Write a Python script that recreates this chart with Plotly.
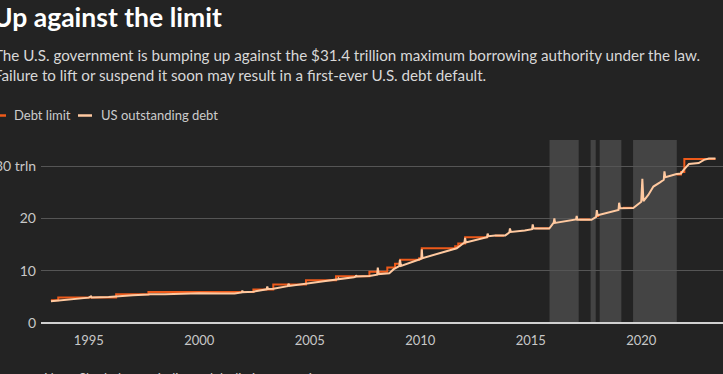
import plotly.graph_objects as go

# ---------------- data ----------------
debt_years = [1993.29, 1994.0, 1995.0, 1995.1, 1995.13, 1995.9, 1996.1, 1996.24, 1997.0, 1997.7, 1997.77,
              1998.45, 1999.0, 2000.0, 2001.0, 2001.6, 2001.93, 2001.95, 2001.98, 2002.45, 2003.05,
              2003.08, 2003.11, 2003.35, 2004.0, 2004.05, 2004.08, 2004.8, 2005.0, 2006.0, 2006.28,
              2006.3, 2006.33, 2007.0, 2007.08, 2007.1, 2007.13, 2007.7, 2008.05, 2008.08, 2008.12,
              2008.6, 2008.8, 2009.05, 2009.08, 2009.13, 2009.93, 2010.05, 2010.07, 2010.1, 2011.65,
              2012.0, 2012.03, 2012.06, 2013.02, 2013.05, 2013.09, 2013.4, 2013.85, 2014.03, 2014.06,
              2014.1, 2014.73, 2015.06, 2015.09, 2015.13, 2015.84, 2016.04, 2016.07, 2016.1, 2017.05,
              2017.08, 2017.11, 2017.75, 2017.96, 2017.99, 2018.03, 2018.97, 2019.0, 2019.04, 2019.64,
              2019.9, 2020.0, 2020.05, 2020.1, 2020.32, 2020.55, 2020.85, 2021.02, 2021.05, 2021.09,
              2021.6, 2021.8, 2021.92, 2022.16, 2022.6, 2022.84, 2023.06, 2023.36]
debt_values = [4.15, 4.45, 4.85, 5.1, 4.88, 4.98, 5.05, 5.1, 5.3, 5.45, 5.5,
               5.5, 5.6, 5.68, 5.65, 5.65, 5.85, 6.2, 5.9, 6.0, 6.45,
               7.0, 6.5, 6.55, 7.05, 7.5, 7.1, 7.5, 7.65, 8.2, 8.35,
               8.55, 8.4, 8.75, 8.85, 9.15, 8.9, 9.0, 9.25, 10.6, 9.35,
               9.5, 10.3, 10.9, 12.1, 10.9, 12.1, 12.3, 14.1, 12.4, 14.3,
               15.4, 16.3, 15.4, 16.4, 17.1, 16.6, 16.75, 16.75, 17.3, 18.1,
               17.4, 17.7, 17.95, 18.85, 18.05, 18.05, 19.2, 20.0, 19.15, 19.8,
               20.5, 19.75, 19.75, 20.3, 21.6, 20.6, 21.6, 23.0, 21.95, 22.0,
               22.9, 23.2, 27.6, 23.3, 24.5, 26.1, 26.9, 27.4, 29.0, 27.9,
               28.5, 28.6, 29.3, 30.4, 30.6, 31.2, 31.45, 31.45]

limit_years = [1993.29, 1993.62, 1996.24, 1997.7, 2002.45, 2003.35, 2004.83, 2006.19, 2007.7,
               2008.51, 2008.86, 2009.09, 2009.95, 2010.07, 2011.58, 2011.72, 2012.03, 2013.08,
               2013.09, 2013.38, 2013.79, 2013.8, 2015.2, 2015.84, 2015.85, 2017.2, 2017.68,
               2017.69, 2017.94, 2018.1, 2018.11, 2019.17, 2019.6, 2019.61, 2021.6, 2021.8,
               2021.95, 2023.36]
limit_values = [4.37, 4.9, 5.5, 5.95, 6.4, 7.384, 8.184, 8.965, 9.815,
                10.615, 11.315, 12.104, 12.394, 14.294, 14.694, 15.194, 16.394, 16.394,
                None, 16.699, 16.699, None, 18.113, 18.113, None, 19.809, 19.809,
                None, 20.456, 20.456, None, 22.03, 22.03, None, 28.4, 28.9,
                31.381, 31.381]

suspension_starts = [2015.85, 2017.71, 2018.12, 2019.63]
suspension_ends = [2017.17, 2017.94, 2019.10, 2021.61]

x_tick_vals = [1995, 2000, 2005, 2010, 2015, 2020]
x_tick_text = ["1995", "2000", "2005", "2010", "2015", "2020"]
y_tick_vals = [0, 10, 20, 30]
y_tick_text = ["0", "10", "20", "30 trln"]

title_text = "Up against the limit"
subtitle_lines = [
    "The U.S. government is bumping up against the $31.4 trillion maximum borrowing authority under the law.",
    "Failure to lift or suspend it soon may result in a first-ever U.S. debt default.",
]
legend_labels = ["Debt limit", "US outstanding debt"]
note_text = "Note: Shaded areas indicate debt limit suspensions."

# ---------------- style ----------------
BG = "#232323"
LIMIT_COLOR = "#ee5a1a"
DEBT_COLOR = "#ffc9a0"
SHADE = "#444444"
FONT = "Lato"

W, H = 723, 374
L, R, T, B = 41, 0, 140, 51
PW, PH = W - L - R, H - T - B


def px(x):
    return (x - L) / PW


def py(y):
    return (H - B - y) / PH


fig = go.Figure()

fig.add_trace(go.Scatter(x=limit_years, y=limit_values, mode="lines", line_shape="hv",
                         line=dict(color=LIMIT_COLOR, width=2), name=legend_labels[0],
                         connectgaps=False, hoverinfo="skip"))
fig.add_trace(go.Scatter(x=debt_years, y=debt_values, mode="lines",
                         line=dict(color=DEBT_COLOR, width=2), name=legend_labels[1],
                         hoverinfo="skip"))

shapes = []
for s, e in zip(suspension_starts, suspension_ends):
    shapes.append(dict(type="rect", xref="x", yref="paper", x0=s, x1=e, y0=0, y1=1,
                       fillcolor=SHADE, line=dict(width=0), layer="below"))

# custom legend
shapes.append(dict(type="line", xref="paper", yref="paper", x0=px(-12), x1=px(6),
                   y0=py(115.5), y1=py(115.5), line=dict(color=LIMIT_COLOR, width=2.5)))
shapes.append(dict(type="line", xref="paper", yref="paper", x0=px(78), x1=px(92),
                   y0=py(115.5), y1=py(115.5), line=dict(color=DEBT_COLOR, width=2.5)))

annotations = [
    dict(text="<b>" + title_text + "</b>", x=px(-9), y=py(17), xref="paper", yref="paper",
         xanchor="left", yanchor="middle", showarrow=False,
         font=dict(family=FONT, size=26.5, color="#ffffff")),
    dict(text=subtitle_lines[0], x=px(-8), y=py(55), xref="paper", yref="paper",
         xanchor="left", yanchor="middle", showarrow=False,
         font=dict(family=FONT, size=15.2, color="#d8d8d8")),
    dict(text=subtitle_lines[1], x=px(-8), y=py(75), xref="paper", yref="paper",
         xanchor="left", yanchor="middle", showarrow=False,
         font=dict(family=FONT, size=15.2, color="#d8d8d8")),
    dict(text=legend_labels[0], x=px(12), y=py(115), xref="paper", yref="paper",
         xanchor="left", yanchor="middle", showarrow=False,
         font=dict(family=FONT, size=13, color="#cccccc")),
    dict(text=legend_labels[1], x=px(99), y=py(115), xref="paper", yref="paper",
         xanchor="left", yanchor="middle", showarrow=False,
         font=dict(family=FONT, size=13, color="#cccccc")),
    dict(text=note_text, x=px(42), y=py(367.5), xref="paper", yref="paper",
         xanchor="left", yanchor="top", showarrow=False,
         font=dict(family=FONT, size=13, color="#cccccc")),
]

fig.update_layout(
    width=W, height=H,
    margin=dict(l=L, r=R, t=T, b=B, pad=0, autoexpand=False),
    paper_bgcolor=BG, plot_bgcolor=BG,
    showlegend=False,
    shapes=shapes,
    annotations=annotations,
    font=dict(family=FONT, color="#bbbbbb", size=13),
    xaxis=dict(range=[1992.84, 2023.70], tickvals=x_tick_vals, ticktext=x_tick_text,
               showgrid=False, zeroline=False, showline=False, ticks="",
               ticklabelstandoff=8, automargin=False,
               tickfont=dict(size=13, color="#c8c8c8"), fixedrange=True),
    yaxis=dict(range=[0, 35], tickvals=y_tick_vals, ticktext=y_tick_text,
               showgrid=True, gridcolor="#555555", gridwidth=1,
               zeroline=True, zerolinecolor="#d0d0d0", zerolinewidth=1.5,
               showline=False, ticks="", ticklabelstandoff=4, automargin=False,
               tickfont=dict(size=14, color="#c8c8c8"),
               fixedrange=True),
)

fig.write_html(
    "out.html",
    config={"displayModeBar": False},
    post_script="document.body.style.margin='0';document.body.style.overflow='hidden';"
                "document.documentElement.style.overflow='hidden';",
)
